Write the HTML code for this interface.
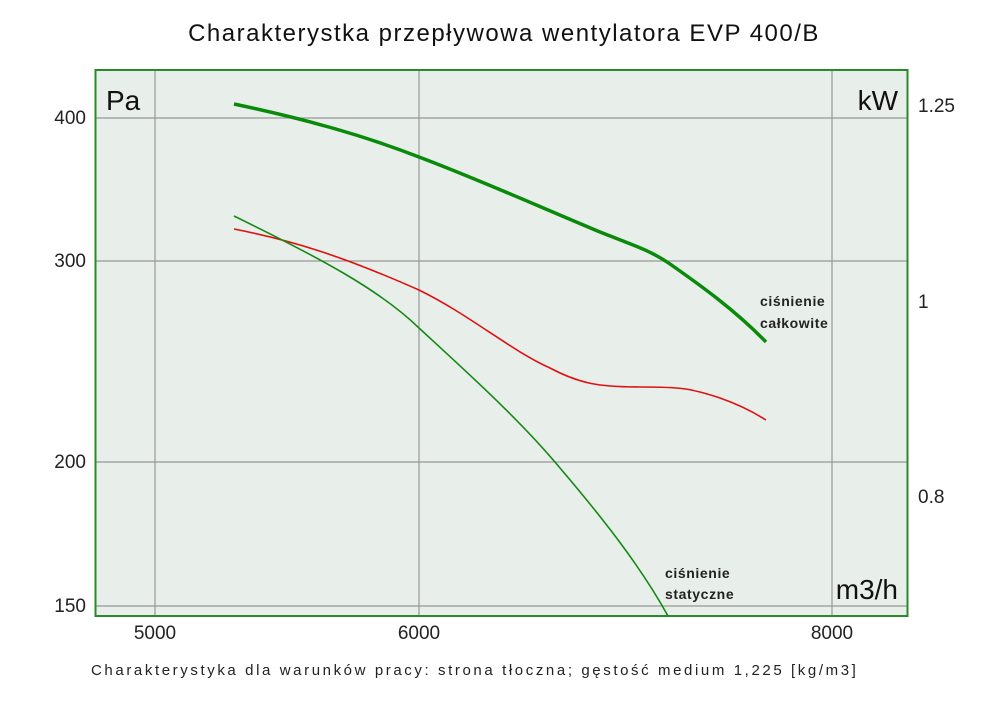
<!DOCTYPE html><html><head><meta charset="utf-8"><style>body{margin:0;background:#fff;font-family:"Liberation Sans","DejaVu Sans",sans-serif}</style></head><body>
<svg width="1000" height="706" xmlns="http://www.w3.org/2000/svg" font-family="Liberation Sans, DejaVu Sans, sans-serif">
<rect width="1000" height="706" fill="#fff"/>
<text x="504" y="41" font-size="24" letter-spacing="1.5" text-anchor="middle" fill="#111">Charakterystka przepływowa wentylatora EVP 400/B</text>
<rect x="95.5" y="70" width="812" height="546" fill="#e8eeea"/>
<g stroke="#999" stroke-width="1.2">
<line x1="155" y1="70" x2="155" y2="616"/><line x1="419" y1="70" x2="419" y2="616"/><line x1="832" y1="70" x2="832" y2="616"/>
<line x1="95" y1="118" x2="908" y2="118"/><line x1="95" y1="261" x2="908" y2="261"/><line x1="95" y1="462" x2="908" y2="462"/><line x1="95" y1="606" x2="908" y2="606"/>
</g>
<rect x="95.5" y="70" width="812" height="546" fill="none" stroke="#2a8a2a" stroke-width="2"/>
<path d="M234,104 C300,118 360,134 419,157 C480,180 540,207 600,232 C630,244 650,250 670,264 C700,285 735,310 766,342" fill="none" stroke="#0a8a0a" stroke-width="3.5"/>
<path d="M234,229 C290,240 340,255 419,290 C470,315 510,350 550,368 C580,384 600,387 640,387 C680,387 690,388 720,398 C740,405 755,413 766,420" fill="none" stroke="#e01010" stroke-width="1.6"/>
<path d="M234,216 C320,258 380,290 419,328 C470,375 520,420 560,468 C600,515 640,565 668,616" fill="none" stroke="#148a14" stroke-width="1.6"/>
<g font-size="19" fill="#222">
<text x="86" y="124" text-anchor="end">400</text><text x="86" y="267" text-anchor="end">300</text><text x="86" y="468" text-anchor="end">200</text><text x="86" y="612" text-anchor="end">150</text>
<text x="918" y="112">1.25</text><text x="918" y="308">1</text><text x="918" y="503">0.8</text>
<text x="155" y="639" text-anchor="middle">5000</text><text x="419" y="639" text-anchor="middle">6000</text><text x="832" y="639" text-anchor="middle">8000</text>
</g>
<g font-size="28" fill="#111"><text x="106" y="110">Pa</text><text x="898" y="110" text-anchor="end">kW</text><text x="898" y="599" text-anchor="end">m3/h</text></g>
<g font-size="14" font-weight="bold" fill="#222" letter-spacing="0.6"><text x="760" y="306">ciśnienie</text><text x="760" y="328">całkowite</text><text x="665" y="578">ciśnienie</text><text x="665" y="599">statyczne</text></g>
<text x="91" y="675" font-size="15" letter-spacing="2.6" fill="#222">Charakterystyka dla warunków pracy: strona tłoczna; gęstość medium 1,225 [kg/m3]</text>
</svg></body></html>
